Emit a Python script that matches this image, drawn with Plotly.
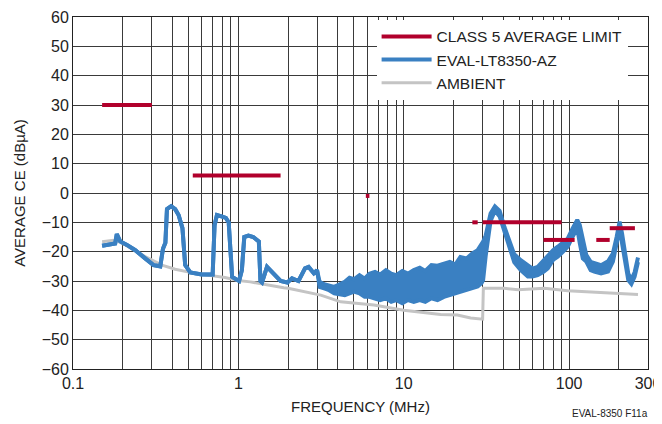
import math
import plotly.graph_objects as go

# ---------------- data ----------------
# CISPR 25 class 5 average limit segments (MHz start, MHz end, dBuA)
limit_f_start = [0.15, 0.53, 5.9, 26.0, 30.0, 70.0, 146.0, 176.0]
limit_f_end   = [0.30, 1.80, 6.2, 28.0, 90.0, 108.0, 176.0, 250.0]
limit_db      = [30.0, 6.0, -1.0, -10.0, -10.0, -16.0, -16.0, -12.0]

# EVAL-LT8350-AZ measured emission: frequency, lower and upper envelope
eval_f = [0.15, 0.18, 0.184, 0.193, 0.212, 0.238, 0.273, 0.307, 0.337, 0.350, 0.362,
          0.370, 0.392, 0.415, 0.435, 0.459, 0.477, 0.512, 0.60, 0.661, 0.699,
          0.718, 0.742, 0.79, 0.84, 0.874, 0.90, 0.917, 1.01, 1.05, 1.086, 1.15,
          1.23, 1.33, 1.36, 1.39, 1.49, 1.64, 1.80, 1.98, 2.11, 2.31, 2.53, 2.66,
          2.86, 2.99,
          3.1, 3.3, 3.5, 3.8, 4.1, 4.4, 4.7, 5.0, 5.4, 5.8, 6.2, 6.7, 7.2, 7.8,
          8.4, 9.0, 9.8, 10.6, 11.5, 12.5, 13.5, 14.7, 16.0, 17.5, 19.0, 20.5,
          22.0, 24.0, 26.0, 28.0, 29.5, 30.2,
          31.3, 33.5, 35.6, 38.0, 40.6, 46.6, 51.0, 56.3, 60.0, 64.6, 70.0, 74.3,
          80.0, 85.4, 92.0, 98.2, 105.0, 112.0, 116.0, 121.0, 127.0, 135.0, 142.0,
          156.0, 172.0, 184.0, 194.0, 202.0, 209.0, 216.0, 228.0, 238.0, 249.0, 261.0]
eval_lo = [-18.0, -17.2, -14.0, -16.5, -17.7, -19.5, -22.3, -24.6, -25.0, -19.0, -17.0,
           -5.5, -4.5, -5.5, -7.5, -12.0, -24.6, -27.1, -27.8, -28.0, -27.8,
           -11.0, -7.5, -8.0, -8.5, -10.0, -20.0, -28.6, -30.0, -26.3, -15.0, -14.5,
           -15.0, -16.5, -30.0, -30.5, -25.2, -27.4, -30.0, -30.5, -29.1, -30.0, -25.7, -25.2,
           -27.4, -26.3,
           -32.0, -32.5, -33.0, -34.2, -34.4, -34.8, -34.2, -33.6, -34.2, -35.4, -35.4, -35.9, -36.5, -35.9,
           -37.1, -36.5, -37.6, -36.5, -37.1, -36.5, -37.1, -35.9, -36.5, -35.4, -34.8, -34.2,
           -33.6, -33.1, -32.5, -31.9, -30.8, -29.7,
           -21.5, -9.5, -6.0, -8.0, -13.0, -23.6, -26.3, -28.5, -28.5, -28.0, -26.9, -25.7,
           -22.8, -21.7, -20.0, -18.3, -14.9, -12.0, -17.1, -22.3, -23.4, -26.3, -26.8,
           -27.4, -26.8, -23.4, -17.1, -12.0, -17.1, -21.5, -29.7, -31.0, -28.5, -23.5]
eval_hi = [-18.0, -17.2, -14.0, -16.5, -17.7, -19.5, -22.3, -24.6, -25.0, -19.0, -17.0,
           -5.5, -4.5, -5.5, -7.5, -12.0, -24.6, -27.1, -27.8, -28.0, -27.8,
           -11.0, -7.5, -8.0, -8.5, -10.0, -20.0, -28.6, -30.0, -26.3, -15.0, -14.5,
           -15.0, -16.5, -30.0, -30.5, -25.2, -27.4, -30.0, -30.5, -29.1, -30.0, -25.7, -25.2,
           -27.4, -26.3,
           -30.3, -31.1, -31.6, -32.0, -31.1, -30.3, -28.9, -29.4, -28.0, -29.2, -27.5, -26.9, -27.8, -26.3,
           -27.5, -28.0, -26.6, -27.5, -26.3, -25.5, -26.6, -24.6, -24.8, -24.0, -23.5, -24.4,
           -21.8, -22.3, -20.6, -19.5, -17.8, -16.6,
           -14.5, -7.0, -4.6, -6.1, -11.5, -20.9, -22.9, -24.6, -25.8, -25.2, -23.1, -21.8,
           -19.5, -18.3, -16.6, -15.5, -12.1, -9.2, -10.9, -16.1, -21.1, -23.5, -24.0,
           -24.6, -23.3, -20.6, -14.9, -9.8, -13.8, -19.0, -27.5, -29.5, -27.0, -22.0]

# Ambient noise floor
amb_f  = [0.15, 0.18, 0.207, 0.273, 0.345, 0.415, 0.548, 0.83, 1.0, 1.18, 1.88, 2.0,
          3.15, 4.16, 6.61, 8.34, 10.0, 16.7, 21.1, 25.4, 30.0, 30.3, 40.6, 49.2,
          70.8, 98.0, 156.0, 261.0]
amb_db = [-16.6, -16.0, -17.7, -21.7, -24.6, -26.0, -27.4, -28.8, -29.8, -30.3, -32.3, -32.5,
          -34.8, -37.1, -38.2, -39.2, -40.0, -41.4, -41.6, -42.6, -43.0, -32.5, -32.5, -33.0,
          -32.5, -33.3, -34.0, -34.6]

# x-axis gridline positions and labels
x_grid = [0.1, 0.2, 0.3, 0.4, 0.5, 0.6, 0.7, 0.8, 0.9,
          1, 2, 3, 4, 5, 6, 7, 8, 9,
          10, 20, 30, 40, 50, 60, 70, 80, 90,
          100, 200, 300]
x_labels = {0.1: "0.1", 1: "1", 10: "10", 100: "100", 300: "300"}

# ---------------- figure ----------------
RED = "#b1002c"
BLUE = "#3a80c2"
GRAY = "#c4c4c4"
GRID = "#3a3a3a"
FONT = "Liberation Sans, Arial, sans-serif"

fig = go.Figure()

fig.add_trace(go.Scatter(x=amb_f, y=amb_db, mode="lines", name="AMBIENT",
                         line=dict(color=GRAY, width=3), legendrank=3))

fig.add_trace(go.Scatter(x=eval_f, y=eval_hi, mode="lines", name="EVAL-LT8350-AZ",
                         line=dict(color=BLUE, width=4), legendrank=2))
fig.add_trace(go.Scatter(x=eval_f, y=eval_lo, mode="lines", showlegend=False,
                         fill="tonexty", fillcolor=BLUE,
                         line=dict(color=BLUE, width=4)))

lx, ly = [], []
for a, b, v in zip(limit_f_start, limit_f_end, limit_db):
    lx += [a, b, None]
    ly += [v, v, None]
fig.add_trace(go.Scatter(x=lx, y=ly, mode="lines", name="CLASS 5 AVERAGE LIMIT",
                         line=dict(color=RED, width=4), connectgaps=False, legendrank=1))

fig.update_layout(
    width=654, height=416,
    margin=dict(l=65, r=14, t=9, b=55),
    paper_bgcolor="white", plot_bgcolor="white",
    font=dict(family=FONT, size=16, color="#222222"),
    showlegend=True,
    legend=dict(x=0.528, y=0.992, xanchor="left", yanchor="top",
                bgcolor="white", borderwidth=0, font=dict(size=15.5, color="#222222"),
                traceorder="normal", tracegroupgap=0, itemwidth=50),
    annotations=[dict(text="EVAL-8350 F11a", xref="paper", yref="paper",
                      x=1.004, y=-0.125, xanchor="right", yanchor="middle",
                      showarrow=False, font=dict(size=10, color="#222222"))],
)

fig.update_xaxes(type="log", range=[-1, math.log10(300)], automargin=False,
                 tickvals=x_grid,
                 ticktext=[x_labels.get(v, "") for v in x_grid],
                 showgrid=True, gridcolor=GRID, gridwidth=1,
                 showline=True, linecolor="#222222", linewidth=1, mirror=True,
                 ticks="", tickfont=dict(size=16),
                 title=dict(text="FREQUENCY (MHz)", font=dict(size=15), standoff=10))
fig.update_yaxes(range=[-60, 60], dtick=10, tick0=0, automargin=False,
                 showgrid=True, gridcolor=GRID, gridwidth=1, zeroline=False,
                 showline=True, linecolor="#222222", linewidth=1, mirror=True,
                 ticks="", tickfont=dict(size=16),
                 title=dict(text="AVERAGE CE (dBµA)", font=dict(size=15), standoff=12))

fig.write_html("out.html")
